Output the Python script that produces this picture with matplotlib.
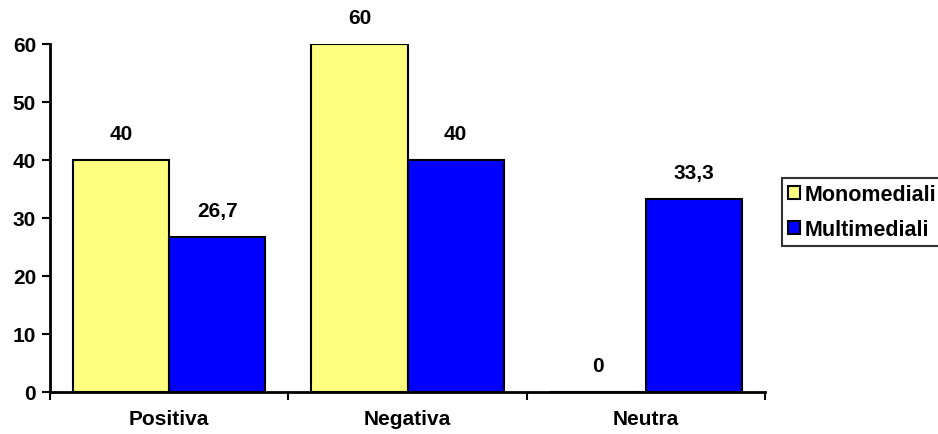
import matplotlib
matplotlib.use("Agg")
import matplotlib.pyplot as plt
import numpy as np

categories = ["Positiva", "Negativa", "Neutra"]
series_names = ["Monomediali", "Multimediali"]
monomediali = [40, 60, 0]
multimediali = [26.7, 40, 33.3]
y_ticks = [0, 10, 20, 30, 40, 50, 60]

colors = ["#FFFF80", "#0000FF"]

plt.rcParams["font.family"] = ["Liberation Sans", "DejaVu Sans"]
plt.rcParams["font.weight"] = "bold"

FS = 15

fig = plt.figure(figsize=(9.38, 4.35), dpi=100)
ax = fig.add_axes([0.0533, 0.0966, 0.7623, 0.80])

x = np.arange(len(categories))
width = 0.403

def fmt(v):
    s = ("%.1f" % v).rstrip("0").rstrip(".")
    return s.replace(".", ",")

for i, (vals, name) in enumerate(zip([monomediali, multimediali], series_names)):
    pos = x + (i - 0.5) * width
    ax.bar(pos, vals, width, color=colors[i], edgecolor="black", linewidth=1.5,
           label=name, zorder=2)
    for px, v in zip(pos, vals):
        ax.annotate(fmt(v), (px, v), xytext=(0, 12), textcoords="offset points",
                    ha="center", va="bottom", fontsize=FS, fontweight="bold")

ax.set_xlim(-0.5, 2.5)
ax.set_ylim(0, 60)
ax.set_yticks(y_ticks)
ax.set_yticklabels([str(t) for t in y_ticks], fontsize=FS, fontweight="bold")
ax.set_xticks([-0.5, 0.5, 1.5, 2.5])
ax.set_xticklabels([])
ax.set_xticks(x, minor=True)
ax.set_xticklabels(categories, minor=True, fontsize=FS, fontweight="bold")
ax.tick_params(axis="x", which="minor", length=0, pad=12)
ax.tick_params(axis="x", which="major", direction="out", length=6, width=1.5)
ax.tick_params(axis="y", direction="out", length=6, width=1.5, pad=4)

for s in ["top", "right"]:
    ax.spines[s].set_visible(False)
for s in ["left", "bottom"]:
    ax.spines[s].set_linewidth(2)
    ax.spines[s].set_zorder(3)

leg = ax.legend(loc="upper left", bbox_to_anchor=(0.8337, 0.5885),
                bbox_transform=fig.transFigure, frameon=True,
                fancybox=False, edgecolor="black", fontsize=15.5,
                handlelength=0.55, handleheight=0.55, handletextpad=0.2,
                borderpad=0.3, labelspacing=0.62, borderaxespad=0)
leg.get_frame().set_linewidth(1.5)
for t in leg.get_texts():
    t.set_fontweight("bold")
for h in leg.legend_handles:
    h.set_linewidth(1.5)

fig.savefig("out.png", dpi=100)
